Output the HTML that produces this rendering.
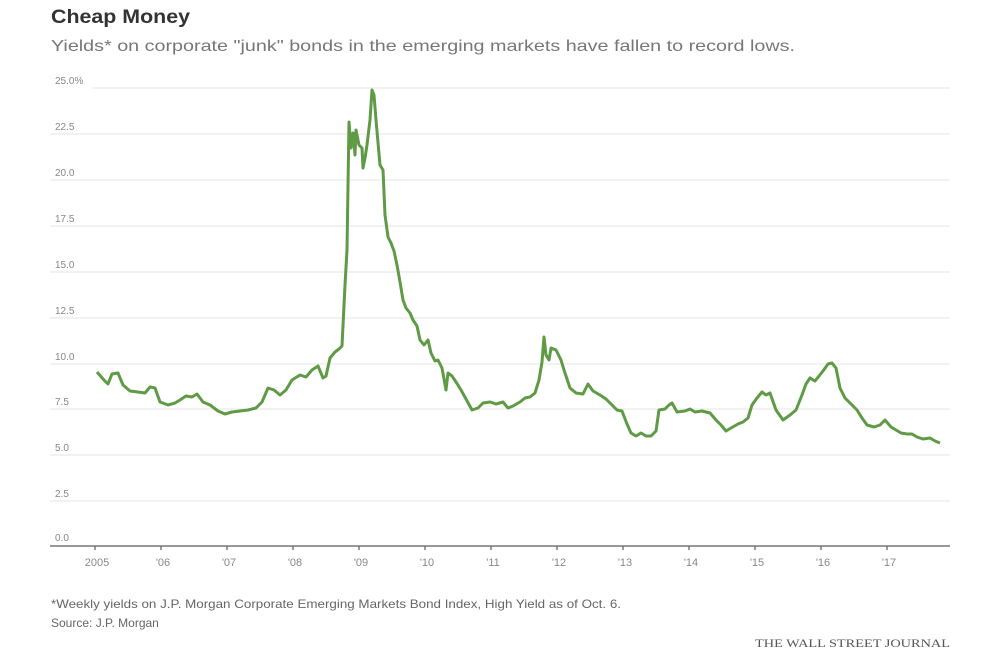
<!DOCTYPE html>
<html><head><meta charset="utf-8"><style>
html,body{margin:0;padding:0;background:#fff;width:1000px;height:660px;overflow:hidden;font-family:"Liberation Sans",sans-serif}
</style></head><body>
<svg width="1000" height="660" xmlns="http://www.w3.org/2000/svg" font-family="Liberation Sans, sans-serif">
<text x="51" y="23" font-size="19" font-weight="bold" fill="#333" textLength="139" lengthAdjust="spacingAndGlyphs">Cheap Money</text>
<text x="51" y="51" font-size="16" fill="#777" textLength="744" lengthAdjust="spacingAndGlyphs">Yields* on corporate "junk" bonds in the emerging markets have fallen to record lows.</text>
<g stroke="#e6e6e6" stroke-width="1">
<line x1="92" x2="950" y1="88" y2="88"/><line x1="50" x2="950" y1="134" y2="134"/>
<line x1="50" x2="950" y1="180" y2="180"/><line x1="50" x2="950" y1="226" y2="226"/>
<line x1="50" x2="950" y1="272" y2="272"/><line x1="50" x2="950" y1="318" y2="318"/>
<line x1="50" x2="950" y1="364" y2="364"/><line x1="50" x2="950" y1="409" y2="409"/>
<line x1="50" x2="950" y1="455" y2="455"/><line x1="50" x2="950" y1="501" y2="501"/>
</g>
<g font-size="10" fill="#888">
<text x="55" y="84">25.0%</text><text x="55" y="130">22.5</text><text x="55" y="176">20.0</text>
<text x="55" y="222">17.5</text><text x="55" y="268">15.0</text><text x="55" y="314">12.5</text>
<text x="55" y="360">10.0</text><text x="55" y="405">7.5</text><text x="55" y="451">5.0</text>
<text x="55" y="497">2.5</text><text x="55" y="541">0.0</text>
</g>
<line x1="50" x2="950" y1="546" y2="546" stroke="#777" stroke-width="1.5"/>
<g stroke="#777" stroke-width="1.5">
<line x1="95" x2="95" y1="546" y2="550"/><line x1="161" x2="161" y1="546" y2="550"/><line x1="227" x2="227" y1="546" y2="550"/><line x1="293" x2="293" y1="546" y2="550"/><line x1="359" x2="359" y1="546" y2="550"/><line x1="425" x2="425" y1="546" y2="550"/><line x1="491" x2="491" y1="546" y2="550"/><line x1="557" x2="557" y1="546" y2="550"/><line x1="623" x2="623" y1="546" y2="550"/><line x1="689" x2="689" y1="546" y2="550"/><line x1="755" x2="755" y1="546" y2="550"/><line x1="821" x2="821" y1="546" y2="550"/><line x1="887" x2="887" y1="546" y2="550"/>
</g>
<g font-size="11" fill="#888" text-anchor="middle">
<text x="97" y="566">2005</text><text x="163" y="566">'06</text><text x="229" y="566">'07</text><text x="295" y="566">'08</text><text x="361" y="566">'09</text><text x="427" y="566">'10</text><text x="493" y="566">'11</text><text x="559" y="566">'12</text><text x="625" y="566">'13</text><text x="691" y="566">'14</text><text x="757" y="566">'15</text><text x="823" y="566">'16</text><text x="889" y="566">'17</text>
</g>
<polyline fill="none" stroke="#5f9a45" stroke-width="3" stroke-linejoin="round" points="97,372 104,380 108,384 112,374 118,373 123,385 130,391 138,392 145,393 150,387 155,388 160,402 168,405 175,403 180,400 186,396 192,397 197,394 203,402 210,405 218,411 225,414 232,412 240,411 248,410 256,408 262,402 268,388 274,390 280,395 286,390 292,380 300,375 306,377 312,370 318,366 323,378 326,376 330,358 335,352 339,349 342,346 345,285 347,250 349,122 351,148 353,133 355,155 356,130 359,145 362,148 363,168 365,158 367,145 370,120 372,90 374,95 376,120 380,165 383,170 385,215 388,237 391,243 394,251 397,265 400,282 403,300 406,308 410,313 413,320 417,326 420,340 424,345 428,340 431,353 435,361 438,360 442,368 446,390 448,373 452,376 456,382 461,390 466,399 472,410 478,408 483,403 490,402 496,404 503,402 508,408 513,406 520,402 525,398 530,397 535,393 539,380 542,362 544,337 546,355 549,360 551,348 556,350 561,360 564,370 570,388 576,393 583,394 588,384 593,391 600,395 606,399 611,404 617,410 622,411 627,424 631,433 636,436 641,433 646,436 651,436 656,431 659,410 665,409 669,405 672,403 677,412 685,411 690,409 695,412 702,411 710,413 716,420 721,425 726,431 731,428 738,424 743,422 748,418 752,405 757,398 762,392 766,395 770,393 776,410 783,420 790,415 796,410 802,395 806,384 810,378 815,381 819,376 823,371 828,364 832,363 836,368 840,388 845,398 852,405 857,410 862,418 867,425 874,427 880,425 885,420 891,427 896,430 901,433 907,434 912,434 917,437 923,439 930,438 935,441 940,443"/>
<text x="51" y="608" font-size="12" fill="#666" textLength="570" lengthAdjust="spacingAndGlyphs">*Weekly yields on J.P. Morgan Corporate Emerging Markets Bond Index, High Yield as of Oct. 6.</text>
<text x="51" y="627" font-size="12" fill="#666">Source: J.P. Morgan</text>
<text x="950" y="647" font-size="12" fill="#555" text-anchor="end" font-family="Liberation Serif, serif" textLength="195" lengthAdjust="spacingAndGlyphs">THE WALL STREET JOURNAL</text>
</svg>
</body></html>
